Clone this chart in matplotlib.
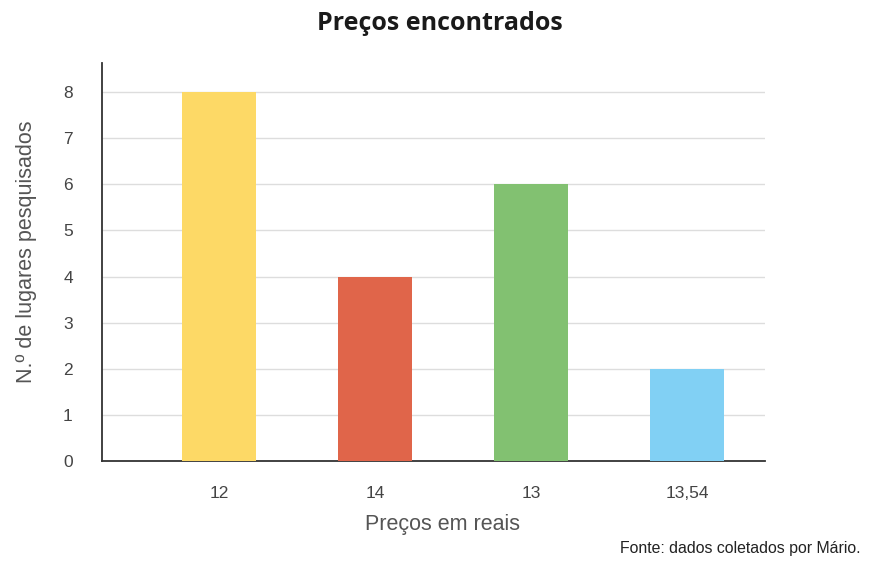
import matplotlib
matplotlib.use("Agg")
import matplotlib.pyplot as plt

categories = ["12", "14", "13", "13,54"]
values = [8, 4, 6, 2]
colors = ["#FDD966", "#E0654A", "#82C171", "#81D0F4"]
yticks = [0, 1, 2, 3, 4, 5, 6, 7, 8]

fig = plt.figure(figsize=(8.76, 5.78), dpi=100)
ax = fig.add_axes([102/876, 1-461/578, (765-102)/876, (461-63)/578])

x = list(range(len(categories)))
ax.bar(x, values, width=0.474, color=colors, zorder=3)
ax.set_xlim(-0.75, 3.5)
ax.set_ylim(0, 8.63)
ax.set_yticks(yticks)
ax.set_xticks(x)
ax.set_xticklabels(categories)
ax.yaxis.grid(True, color="#DDDDDD", linewidth=1, zorder=0)
ax.set_axisbelow(True)
for s in ["top", "right"]:
    ax.spines[s].set_visible(False)
for s in ["left", "bottom"]:
    ax.spines[s].set_color("#333333")
    ax.spines[s].set_linewidth(1.3)
ax.tick_params(axis="both", length=0, labelsize=12.5, labelcolor="#444444",
               labelfontfamily="Liberation Sans")
ax.tick_params(axis="y", pad=21)
ax.tick_params(axis="x", pad=18)

ax.set_ylabel("N.º de lugares pesquisados", fontsize=15.5, color="#555555",
              fontfamily="Liberation Sans")
ax.set_xlabel("Preços em reais", fontsize=15.5, color="#555555",
              fontfamily="Liberation Sans")
ax.yaxis.set_label_coords(-0.098, 0.526)
ax.xaxis.set_label_coords(0.513, -0.133)

fig.text(440/876, 1-23/578, "Preços encontrados", ha="center", va="center",
         fontsize=18, fontweight="bold", fontfamily="Open Sans", color="#1a1a1a")
fig.text(860/876, 1-549/578, "Fonte: dados coletados por Mário.", ha="right",
         va="center", fontsize=11.4, fontfamily="Liberation Sans", color="#222222")

fig.savefig("out.png", dpi=100)
